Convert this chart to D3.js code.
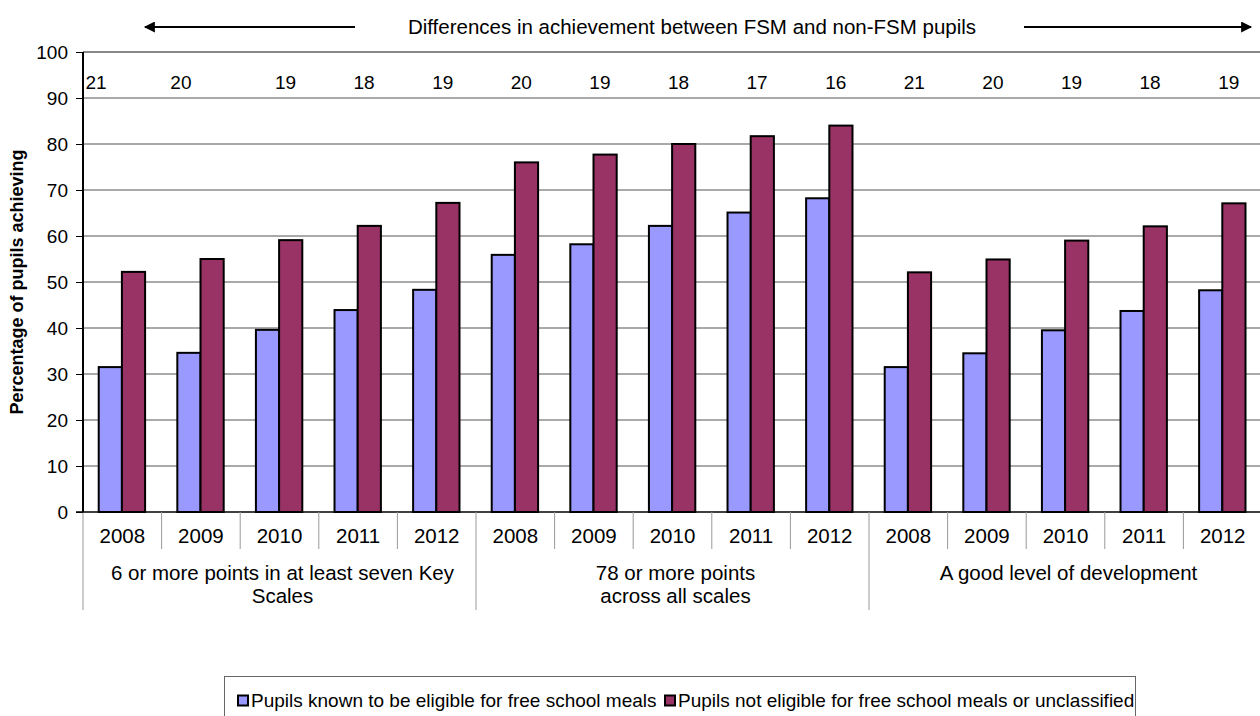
<!DOCTYPE html>
<html>
<head>
<meta charset="utf-8">
<script src="https://cdn.jsdelivr.net/npm/d3@7"></script>
<style>
  body { margin: 0; background: #fff; }
  svg { display: block; font-family: "Liberation Sans", Arial, sans-serif; }
</style>
</head>
<body>
<div id="chart"></div>
<script>
// values
const groups = ['6 or more points in at least seven Key Scales', '78 or more points across all scales', 'A good level of development'];
const groupLines = [['6 or more points in at least seven Key', 'Scales'], ['78 or more points', 'across all scales'], ['A good level of development']];
const years = ['2008', '2009', '2010', '2011', '2012'];
const fsm = [31.5, 34.6, 39.6, 43.9, 48.3, 55.9, 58.2, 62.2, 65.1, 68.2, 31.5, 34.5, 39.5, 43.7, 48.2];
const nonFsm = [52.2, 55, 59.1, 62.2, 67.2, 76, 77.7, 80, 81.7, 84, 52.1, 54.9, 59, 62.1, 67.1];
const gaps = [21, 20, 19, 18, 19, 20, 19, 18, 17, 16, 21, 20, 19, 18, 19];
const seriesNames = ['Pupils known to be eligible for free school meals', 'Pupils not eligible for free school meals or unclassified'];
const colors = ['#9999ff', '#993366'];
const yTicks = d3.range(0, 101, 10);

(function () {
  const W = 1260, H = 716;
  const left = 83, right = 1262, top = 52, bottom = 512;
  const fs = 19, fsCat = 20.5;

  const cats = [];
  groups.forEach((g, gi) => years.forEach(y => cats.push({ key: gi + '-' + y, year: y, group: gi })));

  const svg = d3.select('#chart').append('svg').attr('width', W).attr('height', H);

  const x = d3.scaleBand().domain(cats.map(c => c.key)).range([left, right]);
  const y = d3.scaleLinear().domain([0, 100]).range([bottom, top]);
  const bw = x.bandwidth();

  // gridlines
  svg.append('g').selectAll('line').data(yTicks.filter(t => t > 0)).join('line')
    .attr('x1', left).attr('x2', right)
    .attr('y1', d => y(d)).attr('y2', d => y(d))
    .attr('stroke', d => d === 100 ? '#888' : '#555')
    .attr('stroke-width', d => d === 100 ? 2 : 1);

  // y axis
  const yAxis = svg.append('g').attr('transform', `translate(${left},0)`)
    .call(d3.axisLeft(y).tickValues(yTicks).tickSize(7).tickPadding(8));
  yAxis.select('.domain').remove();
  yAxis.selectAll('line').attr('stroke', '#000');
  yAxis.selectAll('text').attr('font-size', fs).attr('fill', '#000').attr('font-family', '"Liberation Sans", Arial, sans-serif');
  svg.append('line').attr('x1', left).attr('x2', left).attr('y1', top).attr('y2', bottom).attr('stroke', '#000').attr('stroke-width', 2);
  svg.append('line').attr('x1', left).attr('x2', left).attr('y1', bottom).attr('y2', 610).attr('stroke', '#999').attr('stroke-width', 1);

  svg.append('text')
    .attr('transform', `translate(23,${(top + bottom) / 2}) rotate(-90)`)
    .attr('text-anchor', 'middle').attr('font-size', 18).attr('font-weight', 'bold')
    .text('Percentage of pupils achieving');

  // bars
  const barW = bw * 0.295, off = bw * 0.2;
  [fsm, nonFsm].forEach((vals, si) => {
    svg.append('g').selectAll('rect').data(cats).join('rect')
      .attr('x', d => x(d.key) + off + si * barW)
      .attr('y', (d, i) => y(vals[i]))
      .attr('width', barW)
      .attr('height', (d, i) => y(0) - y(vals[i]))
      .attr('fill', colors[si])
      .attr('stroke', '#000').attr('stroke-width', 2);
  });

  // baseline
  svg.append('line').attr('x1', left - 7).attr('x2', right).attr('y1', bottom).attr('y2', bottom).attr('stroke', '#000').attr('stroke-width', 1.5);

  // gap labels
  svg.append('g').selectAll('text').data(cats).join('text')
    .attr('x', (d, i) => i === 0 ? left + 13 : i === 1 ? x(d.key) + bw / 2 - 20 : x(d.key) + bw / 2 + 6)
    .attr('y', 89).attr('text-anchor', 'middle').attr('font-size', fs)
    .text((d, i) => gaps[i]);

  // category axis: year separators and labels
  svg.append('g').selectAll('line').data(cats.slice(1)).join('line')
    .attr('x1', d => x(d.key)).attr('x2', d => x(d.key))
    .attr('y1', bottom).attr('y2', d => years.indexOf(d.year) === 0 ? 610 : 549)
    .attr('stroke', '#999').attr('stroke-width', 1);
  svg.append('g').selectAll('text').data(cats).join('text')
    .attr('x', d => x(d.key) + bw / 2).attr('y', 543)
    .attr('text-anchor', 'middle').attr('font-size', fsCat).text(d => d.year);

  groupLines.forEach((lines, gi) => {
    const x0 = x(gi + '-' + years[0]), x1 = x(gi + '-' + years[years.length - 1]) + bw;
    const cx = (x0 + x1) / 2 + 3;
    const t = svg.append('text').attr('x', cx).attr('y', 580).attr('text-anchor', 'middle').attr('font-size', fsCat);
    lines.forEach((l, li) => t.append('tspan').attr('x', cx).attr('dy', li ? 23 : 0).text(l));
  });

  // header with arrows
  svg.append('defs').append('marker').attr('id', 'ah').attr('viewBox', '0 0 10 10')
    .attr('refX', 9).attr('refY', 5).attr('markerWidth', 15).attr('markerHeight', 11)
    .attr('markerUnits', 'userSpaceOnUse').attr('orient', 'auto')
    .append('path').attr('d', 'M0,0 L10,5 L0,10 z').attr('fill', '#000');
  svg.append('line').attr('x1', 355).attr('x2', 145).attr('y1', 27).attr('y2', 27).attr('stroke', '#000').attr('stroke-width', 2).attr('marker-end', 'url(#ah)');
  svg.append('line').attr('x1', 1024).attr('x2', 1251).attr('y1', 27).attr('y2', 27).attr('stroke', '#000').attr('stroke-width', 2).attr('marker-end', 'url(#ah)');
  svg.append('text').attr('x', 692).attr('y', 34).attr('text-anchor', 'middle').attr('font-size', fsCat)
    .text('Differences in achievement between FSM and non-FSM pupils');

  // legend
  const lg = svg.append('g');
  lg.append('rect').attr('x', 224.5).attr('y', 676.5).attr('width', 911).attr('height', 45).attr('fill', '#fff').attr('stroke', '#666');
  const items = [{ x: 238, name: seriesNames[0], c: colors[0] }, { x: 665, name: seriesNames[1], c: colors[1] }];
  items.forEach(it => {
    lg.append('rect').attr('x', it.x).attr('y', 695.5).attr('width', 10).attr('height', 10).attr('fill', it.c).attr('stroke', '#000').attr('stroke-width', 2);
    lg.append('text').attr('x', it.x + 13).attr('y', 707).attr('font-size', fs).text(it.name);
  });
})();
</script>
</body>
</html>
